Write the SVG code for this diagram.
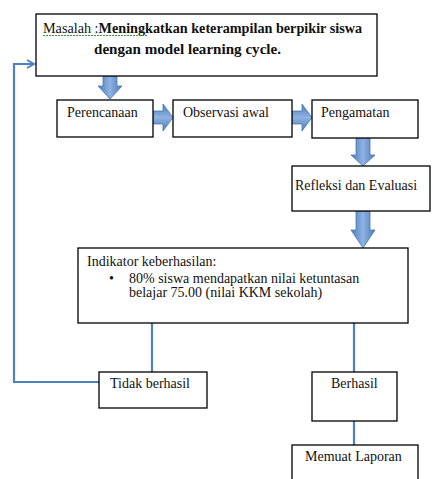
<svg xmlns="http://www.w3.org/2000/svg" width="433" height="479" viewBox="0 0 433 479" font-family="Liberation Serif, DejaVu Serif, serif">
<defs>
<style>
.box{fill:#fff;stroke:#000;stroke-width:1.3}
.t{font-family:'Liberation Serif','DejaVu Serif',serif;font-size:14px;fill:#111}
.b{font-weight:bold}
.conn{fill:none;stroke:#4f81bd;stroke-width:2.2}
.blk{fill:url(#gv);stroke:#4a78b0;stroke-width:0.8}
.blkh{fill:url(#gh);stroke:#4a78b0;stroke-width:0.8}
</style>
<linearGradient id="gv" x1="0" y1="0" x2="1" y2="0">
<stop offset="0" stop-color="#4a7cc0"/><stop offset="0.5" stop-color="#8fb2e0"/><stop offset="1" stop-color="#4a7cc0"/>
</linearGradient>
<linearGradient id="gh" x1="0" y1="0" x2="0" y2="1">
<stop offset="0" stop-color="#4a7cc0"/><stop offset="0.5" stop-color="#8fb2e0"/><stop offset="1" stop-color="#4a7cc0"/>
</linearGradient>
<marker id="open" markerWidth="10" markerHeight="10" refX="8" refY="5" orient="auto" markerUnits="userSpaceOnUse">
<path d="M1,1 L8,5 L1,9" fill="none" stroke="#4f81bd" stroke-width="2"/>
</marker>
</defs>

<g id="connectors">
<polyline class="conn" points="99,382 14,382 14,64 34,64" marker-end="url(#open)"/>
<line class="conn" x1="152" y1="323" x2="152" y2="372"/>
<line class="conn" x1="354" y1="323" x2="354" y2="372"/>
<line class="conn" x1="354" y1="421" x2="354" y2="445"/>
<path class="blk" d="M103,76 H117 V86 H122 L110,99 L98,86 H103 Z"/>
<path class="blkh" d="M153,111 H163 V104 L173,117.5 L163,131 V124 H153 Z"/>
<path class="blkh" d="M292,111 H302 V104 L312,117.5 L302,131 V124 H292 Z"/>
<path class="blk" d="M356,138 H370 V155 H375 L363,166 L351,155 H356 Z"/>
<path class="blk" d="M356,211 H370 V230 H375 L363,248 L351,230 H356 Z"/>
</g>

<g id="masalah">
<rect class="box" x="36" y="14" width="341" height="62"/>
<text class="t" x="43" y="33" textLength="319" lengthAdjust="spacingAndGlyphs">Masalah :<tspan class="b">Meningkatkan keterampilan berpikir siswa</tspan></text>
<text class="t b" x="94" y="54" textLength="187" lengthAdjust="spacingAndGlyphs">dengan model learning cycle.</text>
<path d="M43,35.5 H148" stroke="#3a9a3a" stroke-width="1" stroke-dasharray="2,1" fill="none"/>
</g>

<g id="perencanaan">
<rect class="box" x="57" y="100" width="96" height="37"/>
<text class="t" x="67" y="117">Perencanaan</text>
</g>

<g id="observasi">
<rect class="box" x="173" y="100" width="119" height="37"/>
<text class="t" x="183" y="117">Observasi awal</text>
</g>

<g id="pengamatan">
<rect class="box" x="312" y="100" width="106" height="38"/>
<text class="t" x="321" y="117">Pengamatan</text>
</g>

<g id="refleksi">
<rect class="box" x="292" y="166" width="138" height="45"/>
<text class="t" x="295" y="190">Refleksi dan Evaluasi</text>
</g>

<g id="indikator">
<rect class="box" x="78" y="248" width="330" height="75"/>
<text class="t" x="87" y="266">Indikator keberhasilan:</text>
<text class="t" x="109" y="283">•</text>
<text class="t" x="129" y="283">80% siswa mendapatkan nilai ketuntasan</text>
<text class="t" x="129" y="297">belajar 75.00 (nilai KKM sekolah)</text>
</g>

<g id="tidak-berhasil">
<rect class="box" x="99" y="372" width="108" height="36"/>
<text class="t" x="110" y="388">Tidak berhasil</text>
</g>

<g id="berhasil">
<rect class="box" x="312" y="372" width="85" height="49"/>
<text class="t" x="331" y="388">Berhasil</text>
</g>

<g id="memuat-laporan">
<rect class="box" x="292" y="445" width="126" height="40"/>
<text class="t" x="305" y="461">Memuat Laporan</text>
</g>
</svg>
